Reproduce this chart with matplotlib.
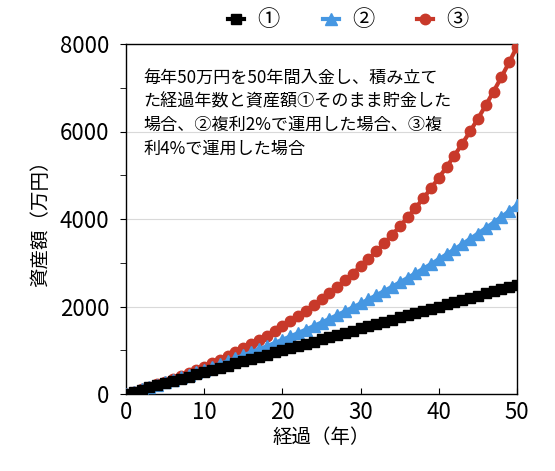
import matplotlib.pyplot as plt
from matplotlib.ticker import MultipleLocator

plt.rcParams['font.family'] = ['Noto Sans CJK JP', 'DejaVu Sans']

# 経過年数
years = list(range(0, 51))

# ① そのまま貯金
savings = [0, 50, 100, 150, 200, 250, 300, 350, 400, 450, 500,
           550, 600, 650, 700, 750, 800, 850, 900, 950, 1000,
           1050, 1100, 1150, 1200, 1250, 1300, 1350, 1400, 1450, 1500,
           1550, 1600, 1650, 1700, 1750, 1800, 1850, 1900, 1950, 2000,
           2050, 2100, 2150, 2200, 2250, 2300, 2350, 2400, 2450, 2500]

# ② 複利2%
rate2 = [0, 51, 103, 156, 210, 265, 322, 379, 438, 497, 558,
         621, 684, 749, 815, 882, 951, 1021, 1092, 1165, 1239,
         1315, 1392, 1471, 1552, 1634, 1717, 1803, 1890, 1978, 2069,
         2161, 2256, 2352, 2450, 2550, 2652, 2756, 2862, 2970, 3081,
         3193, 3308, 3425, 3545, 3667, 3791, 3918, 4047, 4179, 4314]

# ③ 複利4%
rate4 = [0, 52, 106, 162, 221, 282, 345, 411, 479, 550, 624,
         701, 781, 865, 951, 1041, 1135, 1232, 1334, 1439, 1548,
         1662, 1781, 1904, 2032, 2166, 2304, 2448, 2598, 2754, 2916,
         3085, 3260, 3443, 3633, 3830, 4035, 4249, 4470, 4701, 4941,
         5191, 5451, 5721, 6001, 6294, 6597, 6913, 7242, 7583, 7939]

labels = ['①', '②', '③']

fig = plt.figure(figsize=(5.55, 4.71), dpi=100)
ax = fig.add_axes([126 / 555, 1 - 394 / 471, (517 - 126) / 555, (394 - 44) / 471])

ax.plot(years, rate4, color='#c8392a', linewidth=3, marker='o', markersize=7.5,
        label=labels[2], zorder=3)
ax.plot(years, rate2, color='#4697e2', linewidth=3, marker='^', markersize=8,
        label=labels[1], zorder=4)
ax.plot(years, savings, color='black', linewidth=3, marker='s', markersize=7,
        label=labels[0], zorder=5)

ax.set_xlim(0, 50)
ax.set_ylim(0, 8000)
ax.xaxis.set_major_locator(MultipleLocator(10))
ax.yaxis.set_major_locator(MultipleLocator(2000))
ax.yaxis.set_minor_locator(MultipleLocator(1000))
ax.tick_params(axis='x', direction='in', length=4, labelsize=16, pad=5)
ax.tick_params(axis='y', which='both', direction='out', length=4, labelsize=16, pad=8)
ax.grid(axis='y', color='#d9d9d9', linewidth=0.8)
ax.set_axisbelow(True)
for s in ax.spines.values():
    s.set_linewidth(1.0)

ax.set_xlabel('経過（年）', fontsize=14, labelpad=2)
ax.set_ylabel('資産額（万円）', fontsize=14, labelpad=6)

note = ('毎年50万円を50年間入金し、積み立て\n'
        'た経過年数と資産額①そのまま貯金した\n'
        '場合、②複利2%で運用した場合、③複\n'
        '利4%で運用した場合')
ax.text(0.045, 0.93, note, transform=ax.transAxes, fontsize=12.3, va='top',
        ha='left', linespacing=1.4, zorder=6)

h, l = ax.get_legend_handles_labels()
order = [2, 1, 0]
fig.legend([h[i] for i in order], [l[i] for i in order], loc='center',
           bbox_to_anchor=(0.628, 1 - 20 / 471), ncol=3, frameon=False,
           fontsize=16, handlelength=0.7, columnspacing=1.95, handletextpad=0.6)

fig.savefig('out.png', dpi=100)
